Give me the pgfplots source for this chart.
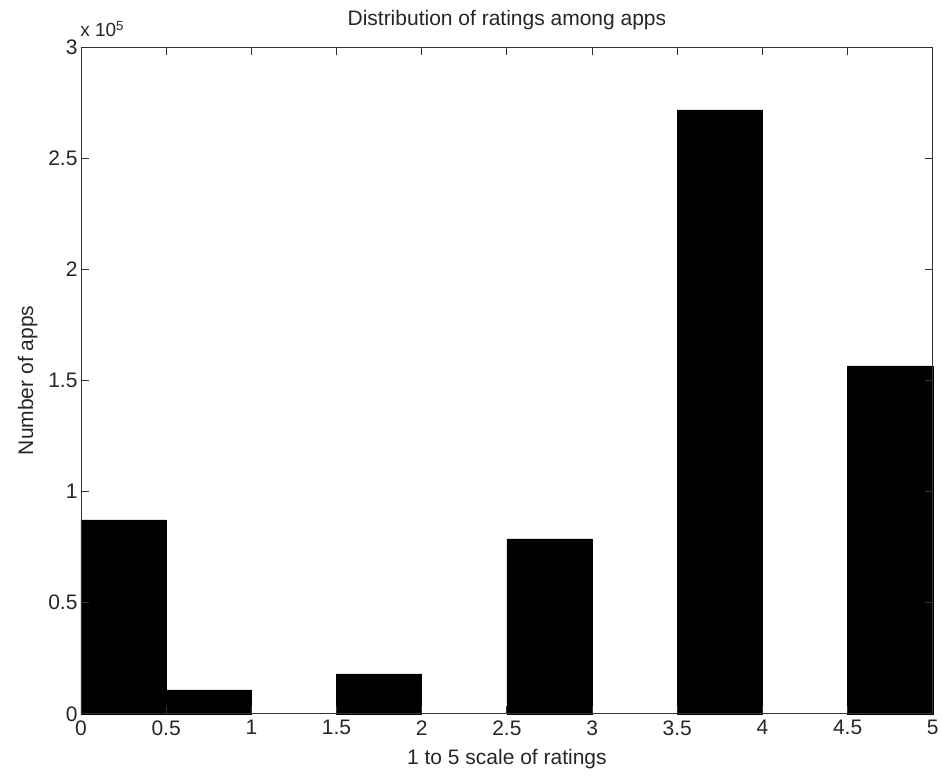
\documentclass[border=0pt]{standalone}
\usepackage{fontspec}
\setmainfont{Liberation Sans}
\usepackage{pgfplots}
\pgfplotsset{compat=1.18}
\begin{document}
\begin{tikzpicture}
\begin{axis}[
  scale only axis,
  width=852pt, height=667pt,
  anchor=south west, at={(0,0)},
  xmin=0, xmax=5, ymin=0, ymax=300000,
  enlargelimits=false,
  axis on top,
  axis line style={line width=0.9pt, black!80},
  every tick/.style={line width=0.9pt, black!80},
  tick align=inside,
  major tick length=8pt,
  xtick={0,0.5,1,1.5,2,2.5,3,3.5,4,4.5,5},
  xticklabels={0,0.5,1,1.5,2,2.5,3,3.5,4,4.5,5},
  ytick={0,50000,100000,150000,200000,250000,300000},
  yticklabels={0,0.5,1,1.5,2,2.5,3},
  scaled y ticks=false,
  tick label style={font=\fontsize{21}{25}\selectfont, text=black!85},
  xticklabel style={yshift=-3pt},
  label style={font=\fontsize{21}{25}\selectfont, text=black!85},
  title style={font=\fontsize{21}{25}\selectfont, text=black!85, at={(axis description cs:0.5,1.0225)}, anchor=base},
  xlabel style={at={(axis description cs:0.5,-0.0765)}, anchor=base},
  ylabel style={at={(axis description cs:-0.0563,0.5)}, anchor=base},
  title={Distribution of ratings among apps},
  xlabel={1 to 5 scale of ratings},
  ylabel={Number of apps},
  clip=false,
]
\addplot[ybar, bar width=0.5, fill=black, draw=black, line width=0.5pt, bar shift=0pt] coordinates {
  (0.25,87300) (0.75,10800) (1.75,18000) (2.75,78700) (3.75,271700) (4.75,156500)
};
\node[anchor=base west, inner sep=0pt, font=\fontsize{19}{22}\selectfont, text=black!85] at (axis description cs:-0.001,1.015) {x 10\textsuperscript{5}};
\end{axis}
\path (-81pt,-62pt) rectangle (861pt,714pt);
\end{tikzpicture}
\end{document}
